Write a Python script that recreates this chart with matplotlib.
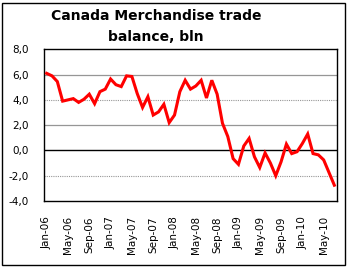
import matplotlib.pyplot as plt

# monthly balance, Jan-06 .. Jul-10 (bln)
balance = [6.1, 5.9, 5.45, 3.9, 4.0, 4.1, 3.8, 4.05, 4.45, 3.7, 4.65, 4.85,
           5.65, 5.2, 5.05, 5.9, 5.85, 4.5, 3.4, 4.25, 2.8, 3.05, 3.65, 2.2,
           2.8, 4.65, 5.55, 4.85, 5.1, 5.55, 4.15, 5.55, 4.45, 2.15, 1.1, -0.65,
           -1.1, 0.35, 0.95, -0.5, -1.35, -0.2, -1.0, -2.0, -0.9, 0.5, -0.25, -0.1,
           0.55, 1.3, -0.25, -0.35, -0.75, -1.75, -2.75]
tick_labels = ['Jan-06', 'May-06', 'Sep-06', 'Jan-07', 'May-07', 'Sep-07', 'Jan-08',
               'May-08', 'Sep-08', 'Jan-09', 'May-09', 'Sep-09', 'Jan-10', 'May-10']
y_ticks = [-4, -2, 0, 2, 4, 6, 8]

fig = plt.figure(figsize=(3.47, 2.68), dpi=100)
fig.patches.append(plt.Rectangle((0.006, 0.011), 0.988, 0.978, transform=fig.transFigure,
                                 fill=False, edgecolor='black', linewidth=1))
ax = fig.add_axes([0.1268, 0.25, 0.8444, 0.566])

x = range(len(balance))
ax.plot(x, balance, color='#ff0000', linewidth=2.2, solid_joinstyle='miter', zorder=3)

# gridlines: solid at 2 and 6, dotted at 4 and -2
for v in [2, 6]:
    ax.axhline(v, color='#969696', linewidth=0.9, zorder=1)
for v in [4, -2]:
    ax.axhline(v, color='#969696', linewidth=0.8, linestyle=(0, (1, 1)), zorder=1)
ax.axhline(0, color='black', linewidth=1.0, zorder=2)

ax.set_xlim(-0.5, len(balance) - 0.5)
ax.set_ylim(-4, 8)
ax.set_yticks(y_ticks)
ax.set_yticklabels([('%.1f' % v).replace('.', ',') for v in y_ticks], fontsize=7.5)
ax.set_xticks(range(0, 4 * len(tick_labels), 4))
ax.set_xticklabels(tick_labels, rotation=90, fontsize=7.5)
ax.tick_params(axis='x', length=0, pad=11)
ax.tick_params(axis='y', length=0, pad=11)
for s in ax.spines.values():
    s.set_linewidth(1.0)
    s.set_color('black')

fig.text(0.45, 0.965, 'Canada Merchandise trade\nbalance, bln', ha='center', va='top',
         fontsize=10, fontweight='bold', linespacing=1.6)

fig.savefig('out.png', dpi=100)
